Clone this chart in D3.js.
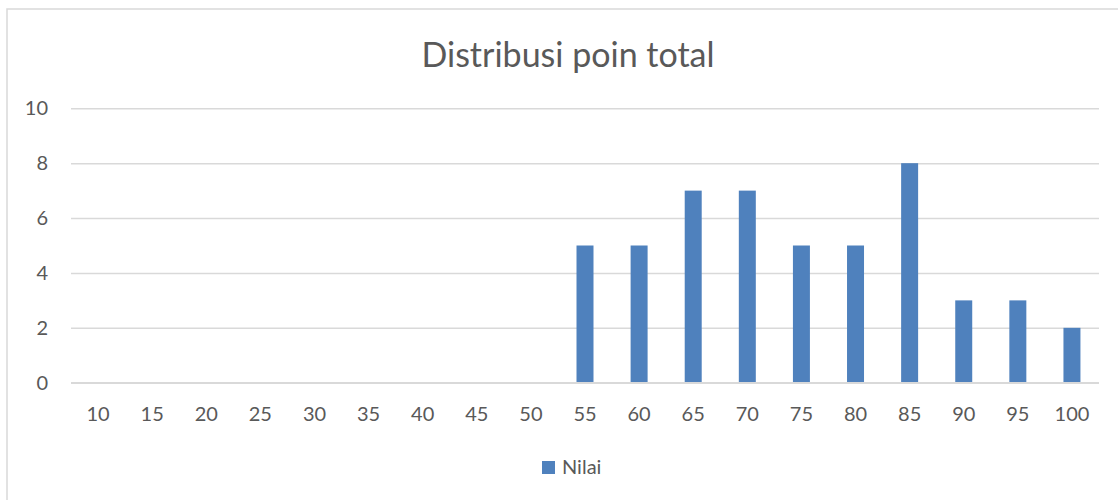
<!DOCTYPE html>
<html>
<head>
<meta charset="utf-8">
<script src="https://cdn.jsdelivr.net/npm/d3@7"></script>
<style>
  body { margin: 0; background: #fff; }
  svg { display: block; font-family: Lato, "Open Sans", sans-serif; }
</style>
</head>
<body>
<svg width="1118" height="500"></svg>
<script>
const categories = ["10", "15", "20", "25", "30", "35", "40", "45", "50", "55",
  "60", "65", "70", "75", "80", "85", "90", "95", "100"];
const nilai = [0, 0, 0, 0, 0, 0, 0, 0, 0, 5, 5, 7, 7, 5, 5, 8, 3, 3, 2];
const yTicks = [0, 2, 4, 6, 8, 10];
const seriesName = "Nilai";
const chartTitle = "Distribusi poin total";

const svg = d3.select("svg");
const width = +svg.attr("width");
const height = +svg.attr("height");
const margin = { left: 71, right: 19, top: 108.3, bottom: 117.3 };
const innerWidth = width - margin.left - margin.right;
const innerHeight = height - margin.top - margin.bottom;
const textColor = "#595959";
const gridColor = "#d9d9d9";
const fontFamily = "Lato, 'Open Sans', sans-serif";

// chart frame (only top & left visible in the crop)
svg.append("path")
  .attr("d", `M7,${height} V9 H${width}`)
  .attr("fill", "none")
  .attr("stroke", gridColor)
  .attr("stroke-width", 1.5);

svg.append("text")
  .attr("x", 568)
  .attr("y", 66.5)
  .attr("text-anchor", "middle")
  .attr("fill", textColor)
  .style("font-size", "34px")
  .text(chartTitle);

const g = svg.append("g")
  .attr("transform", `translate(${margin.left},${margin.top})`);

const xScale = d3.scaleBand()
  .domain(categories)
  .range([0, innerWidth])
  .paddingInner(0.686)
  .paddingOuter(0.343);

const yScale = d3.scaleLinear()
  .domain([0, 10])
  .range([innerHeight, 0]);

const yAxis = d3.axisLeft(yScale)
  .tickValues(yTicks)
  .tickSize(-innerWidth)
  .tickPadding(23);

const yAxisG = g.append("g").call(yAxis)
  .attr("font-family", fontFamily)
  .attr("font-size", 20);
yAxisG.select(".domain").remove();
yAxisG.selectAll(".tick line")
  .attr("stroke", gridColor)
  .attr("stroke-width", 1.5);
yAxisG.selectAll(".tick text")
  .attr("fill", textColor);

const xAxis = d3.axisBottom(xScale)
  .tickSize(0)
  .tickPadding(24);

const xAxisG = g.append("g")
  .attr("transform", `translate(0,${innerHeight})`)
  .call(xAxis)
  .attr("font-family", fontFamily)
  .attr("font-size", 20);
xAxisG.select(".domain").remove();
xAxisG.selectAll(".tick text")
  .attr("fill", textColor);

g.selectAll("rect.bar")
  .data(nilai)
  .enter()
  .append("rect")
  .attr("class", "bar")
  .attr("x", (d, i) => xScale(categories[i]))
  .attr("y", d => yScale(d))
  .attr("width", xScale.bandwidth())
  .attr("height", d => innerHeight - yScale(d))
  .attr("fill", "#4f81bd");

// redraw the zero line above bars
g.append("line")
  .attr("x1", 0)
  .attr("x2", innerWidth)
  .attr("y1", yScale(0))
  .attr("y2", yScale(0))
  .attr("stroke", gridColor)
  .attr("stroke-width", 1.5);

const legend = svg.append("g").attr("transform", "translate(542,461)");
legend.append("rect")
  .attr("width", 13)
  .attr("height", 13)
  .attr("fill", "#4f81bd");
legend.append("text")
  .attr("x", 20)
  .attr("y", 13)
  .attr("fill", textColor)
  .style("font-size", "20px")
  .text(seriesName);
</script>
</body>
</html>
